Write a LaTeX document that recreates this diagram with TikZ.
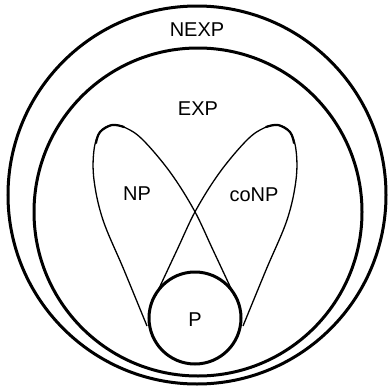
\documentclass[tikz,border=0pt]{standalone}
\usepackage{fontspec}
\setmainfont{Liberation Sans}
\usetikzlibrary{positioning}

\begin{document}
\begin{tikzpicture}[
  x=1pt, y=-1pt,
  cls/.style={draw=black, line width=3pt},
  lobe/.style={draw=black, line width=1.3pt, line join=round},
  pen/.style={draw=black, line width=2.2pt, line cap=round},
  lbl/.style={font=\fontsize{20}{22}\selectfont, inner sep=0pt}
]
  \useasboundingbox (0,0) rectangle (389,391);
  % complexity classes
  \draw[cls] (197,195) circle[radius=189];
  \draw[cls] (198,212) circle[radius=164];
  \draw[cls] (195,318) circle[radius=46];
  % NP and coNP lobes
  \draw[lobe] plot[smooth, tension=0.6] coordinates {(147,326) (124,270) (103,220) (94,180)
    (94,150) (100,132) (112,125) (126,128) (143,140) (170,172) (194,210) (213,250) (235,297)};
  \draw[lobe] plot[smooth, tension=0.6] coordinates {(243,326) (266,270) (287,220) (296,180)
    (296,150) (290,132) (278,125) (264,128) (247,140) (220,172) (196,210) (177,250) (155,297)};
  \draw[pen] plot[smooth, tension=0.6] coordinates {(96,143) (100,132) (112,125) (124,127)};
  \draw[pen] plot[smooth, tension=0.6] coordinates {(294,143) (290,132) (278,125) (266,127)};
  % labels
  \node[lbl] (nexp) at (197,30) {NEXP};
  \node[lbl] (exp) at (198,109) {EXP};
  \node[lbl] (np) at (137,194) {NP};
  \node[lbl] (conp) at (254,195) {coNP};
  \node[lbl] (p) at (195,320) {P};
\end{tikzpicture}
\end{document}
